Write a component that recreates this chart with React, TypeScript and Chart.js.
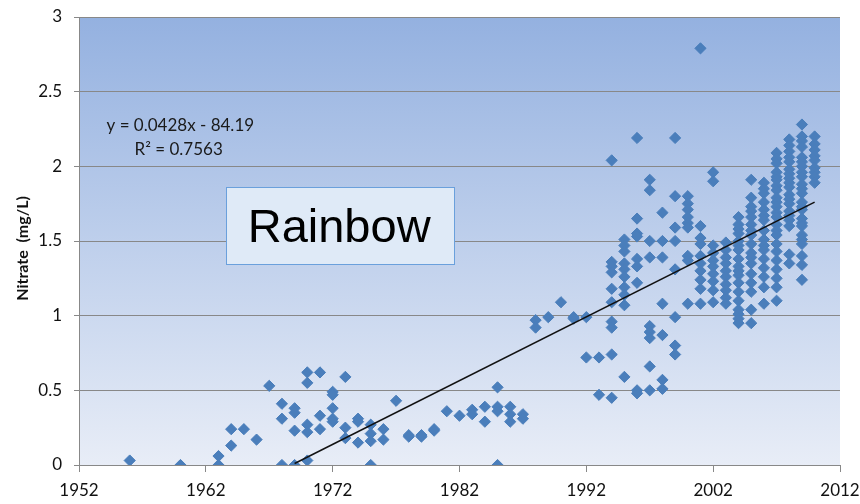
import React, { useEffect, useRef } from "react";
import { Chart, registerables } from "chart.js";

Chart.register(...registerables);

// ---- Data (year, nitrate values in mg/L) ----
const samples1950s60s: [number, number[]][] = [
  [1956, [0.03]],
  [1960, [0]],
  [1963, [0.06, 0]],
  [1964, [0.13, 0.24]],
  [1965, [0.24]],
  [1966, [0.17]],
  [1967, [0.53]],
  [1968, [0.41, 0.31, 0]],
  [1969, [0.38, 0.35, 0.23, 0]],
];

const samples1970s: [number, number[]][] = [
  [1970, [0.62, 0.55, 0.27, 0.22, 0.03]],
  [1971, [0.62, 0.33, 0.24]],
  [1972, [0.49, 0.47, 0.38, 0.31, 0.29]],
  [1973, [0.59, 0.25, 0.18]],
  [1974, [0.31, 0.29, 0.15]],
  [1975, [0.27, 0.21, 0.16, 0]],
  [1976, [0.24, 0.17]],
  [1977, [0.43]],
  [1978, [0.19, 0.2]],
  [1979, [0.19, 0.2]],
];

const samples1980s: [number, number[]][] = [
  [1980, [0.23, 0.24]],
  [1981, [0.36]],
  [1982, [0.33]],
  [1983, [0.37, 0.34]],
  [1984, [0.39, 0.29]],
  [1985, [0.52, 0.39, 0.36, 0]],
  [1986, [0.39, 0.34, 0.29]],
  [1987, [0.34, 0.31]],
  [1988, [0.97, 0.92]],
  [1989, [0.99]],
];

const samples1990s: [number, number[]][] = [
  [1990, [1.09]],
  [1991, [0.98, 0.99]],
  [1992, [0.99, 0.72]],
  [1993, [0.72, 0.47]],
  [1994, [2.04, 1.36, 1.33, 1.29, 1.18, 1.09, 0.96, 0.92, 0.74, 0.45]],
  [1995, [1.51, 1.47, 1.43, 1.35, 1.31, 1.26, 1.19, 1.14, 1.07, 0.59]],
  [1996, [2.19, 1.65, 1.55, 1.53, 1.38, 1.33, 1.22, 0.5, 0.48]],
  [1997, [1.91, 1.84, 1.5, 1.39, 0.93, 0.89, 0.85, 0.66, 0.5]],
  [1998, [1.69, 1.5, 1.39, 1.08, 0.87, 0.57, 0.51]],
  [1999, [2.19, 1.8, 1.59, 1.5, 1.31, 0.99, 0.8, 0.74]],
];

const samples2000s: [number, number[]][] = [
  [2000, [1.8, 1.75, 1.71, 1.66, 1.62, 1.59, 1.4, 1.37, 1.08]],
  [2001, [2.79, 1.6, 1.52, 1.48, 1.4, 1.35, 1.3, 1.24, 1.18, 1.08]],
  [2002, [1.96, 1.9, 1.47, 1.42, 1.37, 1.33, 1.28, 1.23, 1.17, 1.09]],
  [2003, [1.49, 1.44, 1.39, 1.35, 1.3, 1.26, 1.21, 1.17, 1.12, 1.08]],
  [2004, [1.66, 1.61, 1.58, 1.55, 1.5, 1.47, 1.44, 1.38, 1.33, 1.3, 1.27, 1.22, 1.16, 1.1, 1.04, 1.01, 0.98, 0.95]],
  [2005, [1.91, 1.79, 1.73, 1.7, 1.66, 1.61, 1.57, 1.54, 1.48, 1.42, 1.39, 1.35, 1.28, 1.22, 1.16, 1.04, 0.95]],
  [2006, [1.89, 1.85, 1.82, 1.76, 1.71, 1.67, 1.64, 1.57, 1.51, 1.47, 1.44, 1.38, 1.32, 1.26, 1.19, 1.08]],
  [2007, [2.09, 2.05, 2.02, 1.96, 1.93, 1.91, 1.87, 1.84, 1.79, 1.76, 1.73, 1.69, 1.66, 1.61, 1.57, 1.54, 1.48, 1.43, 1.37, 1.31, 1.25, 1.19, 1.1]],
  [2008, [2.18, 2.14, 2.1, 2.06, 2.03, 1.98, 1.95, 1.92, 1.89, 1.86, 1.81, 1.78, 1.75, 1.7, 1.67, 1.64, 1.6, 1.41, 1.35]],
  [2009, [2.28, 2.2, 2.17, 2.13, 2.06, 2.03, 2.0, 1.96, 1.93, 1.88, 1.85, 1.82, 1.76, 1.73, 1.71, 1.65, 1.62, 1.6, 1.54, 1.51, 1.48, 1.4, 1.34, 1.24]],
  [2010, [2.2, 2.15, 2.11, 2.07, 2.04, 1.99, 1.96, 1.93, 1.89]],
];

// Linear trend line endpoints
const trendYears = [1969, 2010];
const trendValues = [0.01, 1.76];

// Axis ticks
const xTickYears = [1952, 1962, 1972, 1982, 1992, 2002, 2012];
const yTickValues = [0, 0.5, 1, 1.5, 2, 2.5, 3];

// Annotation texts
const equationText = "y = 0.0428x - 84.19";
const rSquaredText = "R\u00B2 = 0.7563";
const siteName = "Rainbow";
const yAxisTitle = "Nitrate  (mg/L)";

// Annotation anchors in data units
const equationAnchor = { x: 1954.17, y: 2.237 };
const rSquaredAnchor = { x: 1956.38, y: 2.076 };
const labelBox = { x0: 1963.61, x1: 1981.56, y0: 1.864, y1: 1.344 };
const labelTextAnchor = { x: 1965.3, y: 1.49 };
const yTitleAnchorValue = 1.45;

const allSamples = [...samples1950s60s, ...samples1970s, ...samples1980s, ...samples1990s, ...samples2000s];

const plotBackground = {
  id: "plotBackground",
  beforeDraw(chart: any) {
    const { ctx, chartArea: a } = chart;
    ctx.save();
    ctx.fillStyle = "#ffffff";
    ctx.fillRect(0, 0, chart.width, chart.height);
    const g = ctx.createLinearGradient(0, a.top, 0, a.bottom);
    g.addColorStop(0, "#94b1e0");
    g.addColorStop(1, "#e8edf7");
    ctx.fillStyle = g;
    ctx.fillRect(a.left, a.top, a.right - a.left, a.bottom - a.top);
    ctx.restore();
  },
};

const annotations = {
  id: "annotations",
  afterDraw(chart: any) {
    const { ctx } = chart;
    const xs = chart.scales.x;
    const ys = chart.scales.y;
    ctx.save();
    ctx.fillStyle = "#1a1a1a";
    ctx.font = "17px Lato";
    ctx.textBaseline = "alphabetic";
    ctx.textAlign = "left";
    ctx.fillText(equationText, xs.getPixelForValue(equationAnchor.x), ys.getPixelForValue(equationAnchor.y));
    ctx.fillText(rSquaredText, xs.getPixelForValue(rSquaredAnchor.x), ys.getPixelForValue(rSquaredAnchor.y));

    const bx0 = Math.round(xs.getPixelForValue(labelBox.x0)) + 0.5;
    const bx1 = Math.round(xs.getPixelForValue(labelBox.x1)) + 0.5;
    const by0 = Math.round(ys.getPixelForValue(labelBox.y0)) + 0.5;
    const by1 = Math.round(ys.getPixelForValue(labelBox.y1)) + 0.5;
    ctx.fillStyle = "#dfeaf7";
    ctx.fillRect(bx0, by0, bx1 - bx0, by1 - by0);
    ctx.strokeStyle = "#6aa0dc";
    ctx.lineWidth = 1;
    ctx.strokeRect(bx0, by0, bx1 - bx0, by1 - by0);
    ctx.fillStyle = "#000000";
    ctx.font = "47px 'Liberation Sans', Arial, sans-serif";
    ctx.fillText(siteName, xs.getPixelForValue(labelTextAnchor.x), ys.getPixelForValue(labelTextAnchor.y));

    // Y axis title
    ctx.translate(23, ys.getPixelForValue(yTitleAnchorValue));
    ctx.rotate(-Math.PI / 2);
    ctx.font = "bold 16px Lato";
    ctx.fillStyle = "#111111";
    ctx.textAlign = "center";
    ctx.textBaseline = "middle";
    ctx.fillText(yAxisTitle, 0, 0);
    ctx.restore();
  },
};

export default function App() {
  const ref = useRef<HTMLCanvasElement>(null);

  useEffect(() => {
    const points = allSamples.flatMap(([year, vals]) => vals.map((v) => ({ x: year, y: v })));
    const trend = trendYears.map((yr, i) => ({ x: yr, y: trendValues[i] }));
    const axisColor = "#888888";

    const chart = new Chart(ref.current as HTMLCanvasElement, {
      type: "scatter",
      data: {
        datasets: [
          {
            label: "Trend",
            data: trend,
            showLine: true,
            borderColor: "#111111",
            borderWidth: 1.5,
            pointRadius: 0,
            order: 0,
          } as any,
          {
            label: "Nitrate",
            data: points,
            pointStyle: "rectRot",
            pointRadius: 5.6,
            backgroundColor: "#4a7ebb",
            borderColor: "#4a7ebb",
            borderWidth: 1,
            order: 1,
          } as any,
        ],
      },
      options: {
        responsive: false,
        animation: false,
        layout: { padding: { left: 0, top: 17, right: 20, bottom: 0 } },
        plugins: {
          legend: { display: false },
          tooltip: { enabled: false },
        },
        scales: {
          x: {
            type: "linear",
            min: 1952,
            max: 2012,
            afterBuildTicks: (s: any) => {
              s.ticks = xTickYears.map((v) => ({ value: v }));
            },
            afterFit: (s: any) => {
              s.height = 39;
              s.paddingLeft = 0;
              s.paddingRight = 0;
            },
            ticks: {
              font: { family: "Lato", size: 17 },
              color: "#111111",
              padding: 8,
              maxRotation: 0,
              callback: (v: any) => String(v),
            },
            grid: { drawOnChartArea: false, drawTicks: true, tickLength: 7, color: axisColor },
            border: { display: true, color: axisColor, width: 1 },
          },
          y: {
            type: "linear",
            min: 0,
            max: 3,
            afterBuildTicks: (s: any) => {
              s.ticks = yTickValues.map((v) => ({ value: v }));
            },
            afterFit: (s: any) => {
              s.width = 79;
              s.paddingTop = 0;
              s.paddingBottom = 0;
            },
            ticks: {
              font: { family: "Lato", size: 17 },
              color: "#111111",
              padding: 12,
              callback: (v: any) => String(v),
            },
            grid: { color: axisColor, tickLength: 5, drawTicks: true },
            border: { display: true, color: axisColor, width: 1 },
          },
        },
      },
      plugins: [plotBackground, annotations],
    });
    return () => chart.destroy();
  }, []);

  return (
    <div style={{ position: "absolute", left: 0, top: 0, width: 860, height: 504, background: "#fff" }}>
      <canvas ref={ref} width={860} height={504} style={{ display: "block" }} />
    </div>
  );
}
